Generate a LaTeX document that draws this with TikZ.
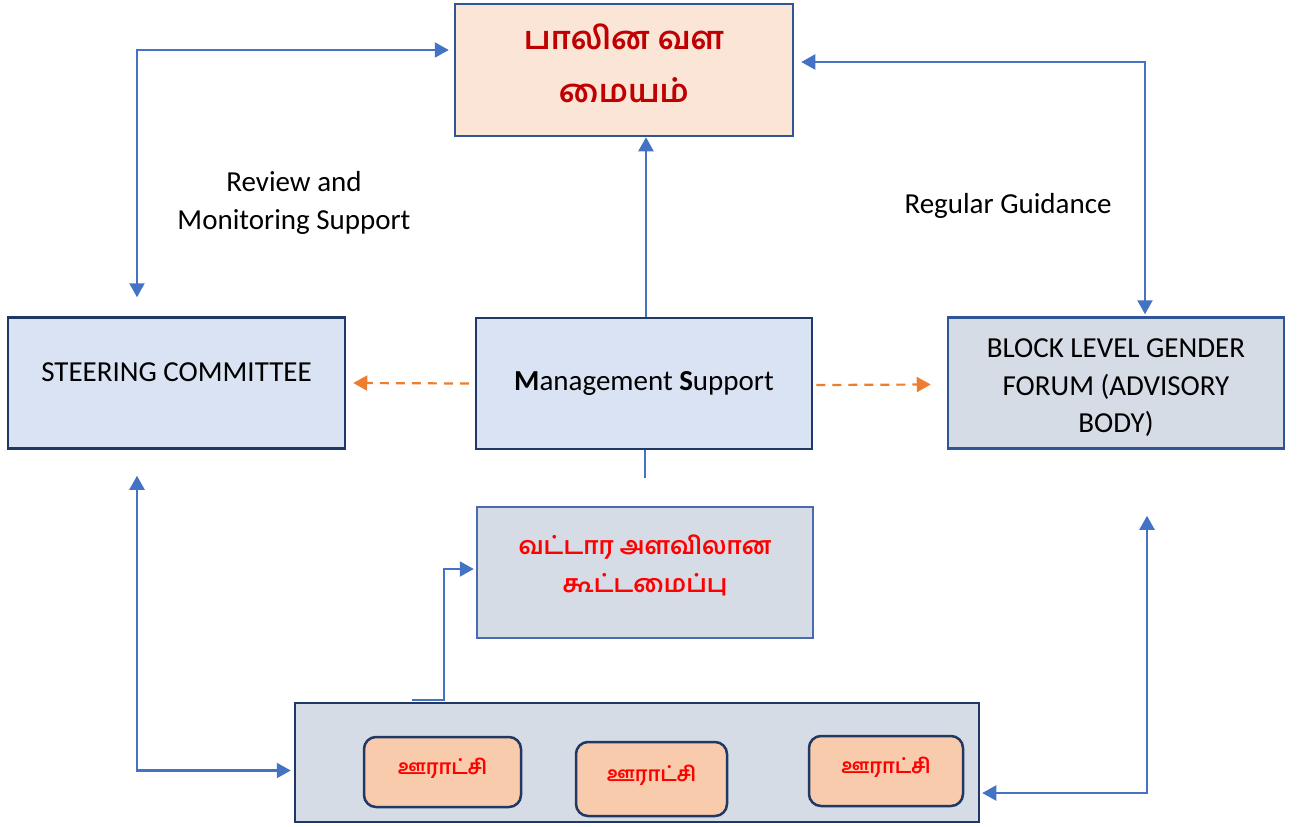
\documentclass[tikz,border=0pt]{standalone}
\usepackage{fontspec}
\setmainfont{Carlito}
\newfontfamily\tamilfont[Script=Tamil]{Hind Madurai}
\usetikzlibrary{positioning,calc,arrows.meta}
\definecolor{linkblue}{HTML}{4472C4}
\definecolor{dashorange}{HTML}{ED7D31}
\definecolor{navyline}{HTML}{203864}
\definecolor{midline}{HTML}{2F5597}
\definecolor{softline}{HTML}{4A6BAF}
\definecolor{peach}{HTML}{FBE5D6}
\definecolor{paleblue}{HTML}{DAE3F3}
\definecolor{palegrey}{HTML}{D6DCE5}
\definecolor{salmon}{HTML}{F8CBAD}
\definecolor{darkred}{HTML}{C00000}
\definecolor{brightred}{HTML}{FF0000}
\tikzset{
  unitbox/.style={draw=navyline, line width=2.5pt, minimum width=337pt, minimum height=131pt,
    inner sep=0pt, align=center, font=\fontsize{29}{37.5}\selectfont},
  villagebox/.style={draw=navyline, line width=2.5pt, fill=salmon, rounded corners=12pt,
    inner sep=0pt, font=\tamilfont\bfseries\fontsize{20.5}{26}\selectfont, text=brightred},
  flow/.style={draw=linkblue, line width=2.2pt, -{Triangle[length=14pt,width=15pt]}},
  biflow/.style={flow, {Triangle[length=14pt,width=15pt]}-{Triangle[length=14pt,width=15pt]}},
  dashflow/.style={draw=dashorange, line width=2.2pt, dash pattern=on 9pt off 7pt,
    -{Triangle[length=14pt,width=15pt]}},
  note/.style={font=\fontsize{29}{38}\selectfont, align=center}
}

\begin{document}
\begin{tikzpicture}[x=1pt,y=-1pt]
\useasboundingbox (0,0) rectangle (1304,827);

\node[unitbox, fill=peach, draw=midline, minimum width=338pt, minimum height=132pt,
  font=\tamilfont\bfseries\fontsize{32}{53}\selectfont, text=darkred] (centre) at (624,70)
  {பாலின வள\\மையம்\\[-40pt]};

\node[unitbox, fill=paleblue, align=none, text height=19pt, text depth=22pt] (steer) at (176.5,383)
  {STEERING COMMITTEE};
\node[unitbox, fill=paleblue, minimum width=336pt] (mgmt) at (644,383.5)
  {\textbf{M}anagement \textbf{S}upport};
\node[unitbox, fill=palegrey, draw=midline, minimum width=336pt, text height=104pt] (block) at (1116,383)
  {BLOCK LEVEL GENDER\\FORUM (ADVISORY\\BODY)};

\node[unitbox, fill=palegrey, draw=softline, minimum width=336pt,
  font=\tamilfont\bfseries\fontsize{24.5}{38}\selectfont, text=brightred] (region) at (645,572.5)
  {வட்டார அளவிலான\\கூட்டமைப்பு\\[-21pt]};

\node[unitbox, fill=palegrey, minimum width=684pt, minimum height=119pt] (panel) at (637,762.5) {};
\node[villagebox, minimum width=157pt, minimum height=70pt, text depth=12pt] (vone) at (442.5,772) {ஊராட்சி};
\node[villagebox, minimum width=151pt, minimum height=74pt, text depth=12pt] (vtwo) at (651.5,779) {ஊராட்சி};
\node[villagebox, minimum width=154pt, minimum height=70pt, text depth=12pt] (vthree) at (886,771) {ஊராட்சி};

\node[note] (review) at (294,203) {Review and\\Monitoring Support};
\node[note] (guide) at (1008,206) {Regular Guidance};

\draw[biflow] ($(steer.north)+(-39.5,-19)$) |- ($(centre.west)+(-5,-20)$);
\draw[biflow] ($(centre.east)+(7,-8)$) -| ($(block.north)+(29,-2)$);
\draw[flow] (mgmt.north -| 646,0) -- (centre.south -| 646,0);
\coordinate (stub) at ($(mgmt.south)+(1,28)$);
\draw[linkblue, line width=2.2pt] (mgmt.south -| stub) -- (stub);

\draw[dashflow] ($(mgmt.west)+(-6,0)$) -- ($(steer.east)+(7,0)$);
\draw[dashflow] ($(mgmt.east)+(3,1.5)$) -- ($(block.west)+(-16,1.5)$);

\draw[biflow] ($(steer.south)+(-39.5,26)$) |- ($(panel.west)+(-3,8)$);
\draw[biflow] ($(block.south)+(31,66)$) |- ($(panel.east)+(2,30.5)$);
\draw[flow] ($(panel.north)+(-225,-1.5)$) -- ++(32,0) |- ($(region.west)+(-2,-3.5)$);

\end{tikzpicture}
\end{document}
